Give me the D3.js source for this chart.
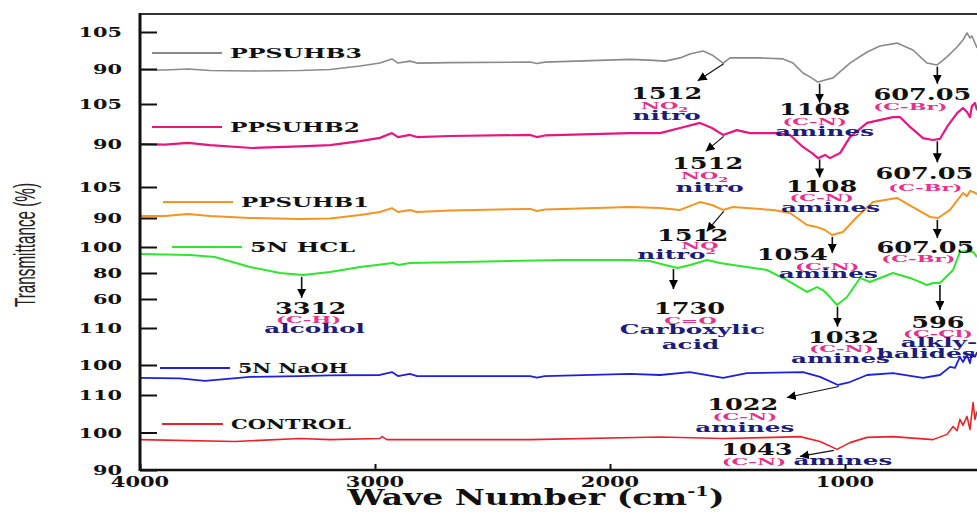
<!DOCTYPE html>
<html>
<head>
<meta charset="utf-8">
<script src="https://cdn.jsdelivr.net/npm/d3@7"></script>
<style>
  body { margin: 0; background: #fff; }
  text { font-family: "DejaVu Serif", serif; font-weight: bold; }
</style>
</head>
<body>
<svg id="chart" width="977" height="513"></svg>
<script>
// FTIR spectra, [wavenumber cm-1, transmittance %]
const ppsuhb3 = [[4000,89.6],[3894,89.6],[3796,90.0],[3702,89.4],[3532,89.2],[3319,89.4],[3191,89.8],[3064,91.2],
  [2979,92.4],[2928,94.1],[2902,92.4],[2851,93.2],[2821,92.4],[2681,92.6],[2340,92.8],[2311,92.2],[2277,92.8],
  [1915,93.9],[1830,93.6],[1766,93.2],[1702,94.5],[1660,96.1],[1604,97.3],[1566,95.7],[1519,92.4],[1489,94.5],
  [1362,94.5],[1264,94.1],[1221,92.4],[1179,88.4],[1149,86.8],[1115,84.7],[1085,85.5],[1051,86.4],[979,92.4],
  [906,96.9],[851,99.3],[779,100.5],[711,97.7],[651,92.4],[609,91.6],[566,94.9],[523,98.9],[498,101.8],
  [481,104.6],[468,102.6],[460,103.4],[438,98.5]];
const ppsuhb2 = [[4000,90.0],[3894,89.8],[3796,90.4],[3702,89.6],[3523,88.5],[3319,89.1],[3191,89.6],[3064,91.1],
  [2979,92.3],[2928,94.1],[2902,92.6],[2851,93.4],[2821,92.6],[2681,93.0],[2340,93.4],[2311,92.6],[2277,93.2],
  [1915,94.1],[1787,94.1],[1702,96.0],[1617,97.9],[1566,96.0],[1519,93.4],[1460,95.2],[1404,94.1],[1289,94.1],
  [1234,93.4],[1179,88.9],[1140,86.6],[1115,84.7],[1085,85.9],[1064,84.7],[1021,86.6],[979,92.6],[906,97.9],
  [796,100.1],[766,100.1],[723,96.4],[668,92.2],[626,91.5],[596,91.9],[566,96.4],[523,101.6],[498,103.5],
  [481,102.0],[468,100.1],[460,104.2],[447,105.4],[438,102.7]];
const ppsuhb1 = [[4000,91.0],[3894,91.0],[3796,91.9],[3702,91.0],[3532,90.0],[3319,89.5],[3191,89.8],[3064,91.5],
  [2979,92.9],[2928,94.8],[2902,92.9],[2851,93.9],[2821,92.9],[2681,93.6],[2340,94.4],[2311,93.4],[2277,94.1],
  [1915,95.3],[1787,94.8],[1702,93.9],[1617,97.7],[1566,96.3],[1519,93.9],[1477,95.3],[1306,93.9],[1234,92.4],
  [1162,86.6],[1119,85.6],[1085,84.2],[1055,81.8],[1009,83.2],[949,90.5],[881,97.7],[779,99.7],[711,95.3],
  [638,90.5],[604,90.0],[553,93.9],[498,102.1],[481,100.6],[468,103.1],[455,102.6],[438,101.6]];
const hcl5n = [[4000,94.6],[3787,93.8],[3681,92.3],[3532,84.6],[3404,80.0],[3306,78.5],[3191,80.8],[3064,84.6],
  [2923,87.7],[2902,86.2],[2851,87.7],[2626,88.5],[2200,90.0],[1915,90.0],[1830,89.2],[1766,86.2],[1711,83.8],
  [1660,86.2],[1587,90.0],[1532,87.7],[1477,86.2],[1332,82.3],[1247,74.6],[1191,68.5],[1162,65.4],[1119,69.2],
  [1094,66.9],[1064,61.5],[1034,55.4],[991,61.5],[936,76.2],[894,73.1],[796,80.0],[723,76.2],[651,70.8],
  [626,72.3],[596,72.3],[540,82.3],[511,96.2],[481,96.9],[455,96.2],[438,92.3]];
const naoh5n = [[4000,96.5],[3830,96.4],[3723,95.7],[3532,96.8],[3319,97.0],[3191,97.2],[2979,97.3],[2928,98.1],
  [2902,97.0],[2851,97.6],[2821,97.0],[2340,97.0],[2311,96.6],[2277,97.0],[1915,97.6],[1787,97.3],[1660,98.1],
  [1519,96.5],[1417,97.8],[1179,98.1],[1106,96.8],[1030,94.6],[979,95.4],[906,97.3],[796,97.8],[668,96.5],
  [596,97.3],[553,99.5],[532,99.2],[511,102.2],[498,100.8],[481,102.7],[468,100.5],[460,103.5],[447,102.2],[438,103.5]];
const control = [[4000,98.1],[3596,97.6],[3319,98.4],[3191,98.1],[2979,98.4],[2970,98.9],[2949,98.1],[2340,98.1],
  [1787,98.8],[1519,98.4],[1306,98.7],[1191,98.9],[1106,97.6],[1034,95.5],[979,97.3],[906,98.7],[796,98.9],
  [626,98.1],[566,99.5],[540,101.6],[523,100.5],[511,103.5],[498,101.9],[481,104.3],[468,100.8],[455,108.0],
  [447,103.5],[438,105.6]];

const spectra = [ppsuhb3, ppsuhb2, ppsuhb1, hcl5n, naoh5n, control];
const names = ["PPSUHB3", "PPSUHB2", "PPSUHB1", "5N HCL", "5N NaOH", "CONTROL"];
const colors = ["#8a8a8a", "#e8157f", "#f39423", "#2ee62e", "#1f1fe0", "#ec2027"];
const widths = [1.6, 2.2, 2, 2, 1.8, 1.6];
const xTicks = [4000, 3000, 2000, 1000];
const yTicks = [[90, 105], [90, 105], [90, 105], [60, 80, 100], [100, 110], [90, 100, 110]];

// vertical band of each stacked spectrum (value domain -> pixel range)
const bands = [
  { domain: [90, 105], range: [69, 32] },
  { domain: [90, 105], range: [144, 104] },
  { domain: [90, 105], range: [218, 187] },
  { domain: [60, 100], range: [299, 247] },
  { domain: [100, 110], range: [365, 328] },
  { domain: [90, 110], range: [470, 395] }
];
const legendPos = [
  { x1: 152, x2: 222, y: 53, len: 132 },
  { x1: 152, x2: 222, y: 127, len: 130 },
  { x1: 163, x2: 233, y: 202, len: 128 },
  { x1: 172, x2: 242, y: 247, len: 105 },
  { x1: 160, x2: 230, y: 368, len: 110 },
  { x1: 162, x2: 223, y: 424, len: 120 }
];

// peak labels: series, wavenumber, arrow end offset, text lines [text, style, dx, dy, sub/sup]
const peaks = [
  { s: 0, wn: 1512, ax: -27, ay: 19, lines: [["1512","n",-58,37],["NO","p",-60,47,"sub"],["nitro","b",-58,58]] },
  { s: 0, wn: 1108, ax: 0, ay: 21, lines: [["1108","n",-5,33],["(C-N)","p",-5,43],["amines","b",5,54]] },
  { s: 0, wn: 607.05, ax: 0, ay: 19, lines: [["607.05","n",-15,35],["(C-Br)","p",-27,45]] },
  { s: 1, wn: 1512, ax: -19, ay: 17, lines: [["1512","n",-17,35],["NO","p",-20,45,"sub"],["nitro","b",-15,58]] },
  { s: 1, wn: 1108, ax: 0, ay: 20, lines: [["1108","n",2,35],["(C-N)","p",2,44],["amines","b",11,55]] },
  { s: 1, wn: 607.05, ax: 0, ay: 23, lines: [["607.05","n",-13,40],["(C-Br)","p",-12,52]] },
  { s: 2, wn: 1512, ax: -18, ay: 22, lines: [["1512","n",-32,32],["NO","p",-25,40],["nitro","b",-48,50,"sup"]] },
  { s: 2, wn: 1054, ax: 0, ay: 18, lines: [["1054","n",-40,25],["(C-N)","p",-5,35],["amines","b",-4,43]] },
  { s: 2, wn: 607.05, ax: 0, ay: 20, lines: [["607.05","n",-12,35],["(C-Br)","p",-19,44]] },
  { s: 3, wn: 3312, ax: 0, ay: 23, lines: [["3312","n",9,39],["(C-H)","p",7,48],["alcohol","b",13,58]] },
  { s: 3, wn: 1730, ax: 0, ay: 22, lines: [["1730","n",16,47],["C=O","p",17,57],["Carboxylic","b",19,67],["acid","b",17,82]] },
  { s: 3, wn: 1032, ax: 0, ay: 22, lines: [["1032","n",6,38],["(C-N)","p",4,47],["amines","b",3,58]] },
  { s: 3, wn: 596, ax: 0, ay: 27, lines: [["596","n",-2,45],["(C-Cl)","p",-2,54],["alkly-","b",-1,64],["halides","b",-14,75]] },
  { s: 4, wn: 1022, ax: -53, ay: 13, lines: [["1022","n",-97,25],["(C-N)","p",-95,35],["amines","b",-95,47]] },
  { s: 5, wn: 1043, ax: -35, ay: 8, lines: [["1043","n",-78,7],["(C-N)","p",-81,17],["amines","b",8,17]] }
];
const styles = {
  n: { size: 16, fill: "#111", sx: 1.6 },
  p: { size: 10, fill: "#e8308a", sx: 2.1 },
  b: { size: 13, fill: "#1d1c78", sx: 1.9 }
};

const W = 977, H = 513;
const plotLeft = 140, plotTop = 14, plotBottom = 470;
const svg = d3.select("#chart");

const x = d3.scaleLinear().domain([4000, 1000]).range([plotLeft, 845]);
const ys = bands.map(b => d3.scaleLinear().domain(b.domain).range(b.range));

const defs = svg.append("defs");
defs.append("clipPath").attr("id", "plot")
  .append("rect").attr("x", plotLeft).attr("y", plotTop)
  .attr("width", W - plotLeft).attr("height", plotBottom - plotTop);

const marker = defs.append("marker")
  .attr("id", "head").attr("viewBox", "0 0 10 10")
  .attr("refX", 10).attr("refY", 5)
  .attr("markerWidth", 9).attr("markerHeight", 9)
  .attr("markerUnits", "userSpaceOnUse").attr("orient", "auto");
marker.append("path").attr("d", "M0,0L10,5L0,10Z").attr("fill", "#000");

// spectra
const g = svg.append("g").attr("clip-path", "url(#plot)");
spectra.forEach((d, i) => {
  g.append("path").datum(d)
    .attr("fill", "none").attr("stroke", colors[i]).attr("stroke-width", widths[i])
    .attr("stroke-linejoin", "round")
    .attr("d", d3.line().x(p => x(p[0])).y(p => ys[i](p[1])));
});

// frame
svg.append("line").attr("x1", plotLeft).attr("x2", W).attr("y1", plotTop).attr("y2", plotTop)
  .attr("stroke", "#333").attr("stroke-width", 2);
svg.append("line").attr("x1", plotLeft).attr("x2", W).attr("y1", plotBottom).attr("y2", plotBottom)
  .attr("stroke", "#111").attr("stroke-width", 2.5);
svg.append("line").attr("x1", plotLeft).attr("x2", plotLeft).attr("y1", plotTop - 1).attr("y2", plotBottom + 1)
  .attr("stroke", "#111").attr("stroke-width", 3);

function wide(sel, tx, ty, str, size, fill, sx, anchor) {
  return sel.append("text")
    .attr("transform", `translate(${tx},${ty}) scale(${sx},1)`)
    .attr("text-anchor", anchor || "middle")
    .attr("font-size", size).attr("fill", fill).text(str);
}

// y ticks per band
ys.forEach((y, i) => {
  const ax = svg.append("g").attr("transform", `translate(${plotLeft},0)`)
    .call(d3.axisRight(y).tickValues(yTicks[i]).tickSize(17).tickFormat(""));
  ax.select(".domain").remove();
  ax.selectAll("line").attr("stroke", "#111").attr("stroke-width", 2);
  yTicks[i].forEach(v => wide(svg, 122, y(v) + 5, v, 13, "#111", 1.6, "end"));
});

// x ticks
const xa = svg.append("g").attr("transform", `translate(0,${plotBottom})`)
  .call(d3.axisTop(x).tickValues(xTicks).tickSize(6).tickFormat(""));
xa.select(".domain").remove();
xa.selectAll("line").attr("stroke", "#111").attr("stroke-width", 2);
xTicks.forEach(v => wide(svg, x(v), 487, v, 14, "#111", 1.5));

// axis titles
const xt = svg.append("text").attr("transform", "translate(536,505) scale(1.5,1)")
  .attr("text-anchor", "middle").attr("font-size", 22).attr("fill", "#111");
xt.append("tspan").text("Wave Number (cm");
xt.append("tspan").attr("font-size", 13).attr("dy", -9).text("-1");
xt.append("tspan").attr("dy", 9).text(")");

svg.append("text").attr("transform", "translate(35,245) rotate(-90)")
  .attr("text-anchor", "middle")
  .style("font-family", "'Liberation Sans Narrow','Liberation Sans',sans-serif")
  .style("font-weight", "normal")
  .attr("font-size", 30).attr("fill", "#222")
  .attr("textLength", 124).attr("lengthAdjust", "spacingAndGlyphs")
  .text("Transmittance (%)");

// legend
legendPos.forEach((p, i) => {
  svg.append("line").attr("x1", p.x1).attr("x2", p.x2).attr("y1", p.y).attr("y2", p.y)
    .attr("stroke", colors[i]).attr("stroke-width", 2);
  svg.append("text").attr("x", p.x2 + 8).attr("y", p.y + 5)
    .attr("font-size", 12).attr("fill", "#111")
    .attr("textLength", p.len).attr("lengthAdjust", "spacingAndGlyphs")
    .text(names[i]);
});

// peak arrows and labels
function valueAt(d, wn) {
  for (let k = 0; k < d.length - 1; k++) {
    const a = d[k], b = d[k + 1];
    if (wn <= a[0] && wn >= b[0]) return a[1] + (b[1] - a[1]) * (a[0] - wn) / (a[0] - b[0]);
  }
  return d[d.length - 1][1];
}
peaks.forEach(pk => {
  const px = x(pk.wn), py = ys[pk.s](valueAt(spectra[pk.s], pk.wn));
  const sx = pk.ax === 0 ? px : px - 1;
  svg.append("line")
    .attr("x1", sx).attr("y1", py + 2)
    .attr("x2", px + pk.ax).attr("y2", py + pk.ay)
    .attr("stroke", "#111").attr("stroke-width", pk.ax === 0 ? 1.6 : 1.2)
    .attr("marker-end", "url(#head)");
  pk.lines.forEach(([t, st, dx, dy, extra]) => {
    const s = styles[st];
    const tx = wide(svg, px + dx, py + dy, t, s.size, s.fill, s.sx);
    if (extra === "sub") tx.append("tspan").attr("font-size", 7).attr("dy", 3).text("2");
    if (extra === "sup") tx.append("tspan").attr("font-size", 8).attr("fill", styles.p.fill).attr("dy", -5).text("2");
  });
});
</script>
</body>
</html>
